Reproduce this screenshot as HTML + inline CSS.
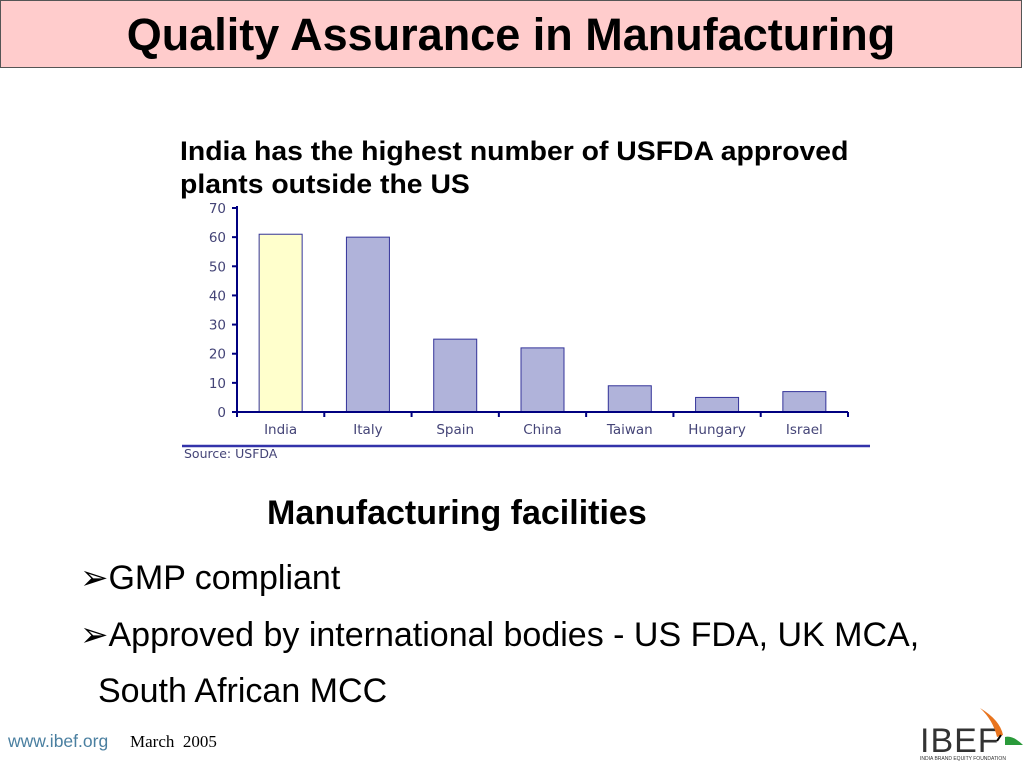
<!DOCTYPE html>
<html><head><meta charset="utf-8"><style>
body{margin:0;width:1024px;height:768px;background:#fff;position:relative;overflow:hidden;font-family:"Liberation Sans",sans-serif}
.t{position:absolute;white-space:nowrap}
</style></head><body>
<div style="position:absolute;left:0;top:0;width:1020px;height:66px;background:#ffcccc;border:1px solid #555"></div>
<div class="t" style="left:0;width:1022px;text-align:center;top:9px;font-size:45px;font-weight:bold;color:#000">Quality Assurance in Manufacturing</div>
<div class="t" style="left:180px;top:135px;font-size:27px;font-weight:bold;line-height:33px;transform:scaleX(1.05);transform-origin:0 0">India has the highest number of USFDA approved<br>plants outside the US</div>
<svg id="chart" width="1024" height="768" style="position:absolute;left:0;top:0"></svg>
<div class="t" style="left:267px;top:494px;font-size:34px;font-weight:bold">Manufacturing facilities</div>
<div class="t" style="left:80px;top:558px;font-size:34px">➢GMP compliant</div>
<div class="t" style="left:80px;top:615px;font-size:34px">➢Approved by international bodies - US FDA, UK MCA,</div>
<div class="t" style="left:98px;top:672px;font-size:34px">South African MCC</div>
<div class="t" style="left:8px;top:731px;font-size:17.5px;color:#4a7fa0">www.ibef.org</div>
<div class="t" style="left:130px;top:732px;font-size:17px;font-family:'Liberation Serif',serif">March&nbsp; 2005</div>
<div class="t" style="left:920px;top:722px;font-size:34px;color:#333;letter-spacing:1px">IBEF</div>
<div class="t" style="left:920px;top:756px;font-size:5px;color:#333">INDIA BRAND EQUITY FOUNDATION</div>
<svg width="50" height="50" style="position:absolute;left:975px;top:705px"><path d="M5 3 Q25 15 28 30 L22 32 Q18 15 5 3Z" fill="#e8741e"/><path d="M30 32 Q38 30 48 40 L30 40Z" fill="#2a9a3a"/><path d="M22 36 L26 30" stroke="#000" stroke-width="2"/></svg>
<script>
const categories=["India","Italy","Spain","China","Taiwan","Hungary","Israel"];
const values=[61,60,25,22,9,5,7];
const yTicks=[0,10,20,30,40,50,60,70];
const svg=document.getElementById('chart');const NS='http://www.w3.org/2000/svg';
const x0=237,x1=848,y0=412,y1=208,ymax=70;
const yS=v=>y0-(v/ymax)*(y0-y1);
const bw=(x1-x0)/categories.length;
const xS=i=>x0+(i+0.5)*bw;
function mk(t,a){const e=document.createElementNS(NS,t);for(const k in a)e.setAttribute(k,a[k]);svg.appendChild(e);return e;}
values.forEach((v,i)=>{const r=mk('rect',{x:xS(i)-21.5,y:yS(v),width:43,height:y0-yS(v),fill:i==0?'#ffffcc':'#b0b3da',stroke:'#333399','stroke-width':1});


const t=mk('text',{x:xS(i),y:434,'text-anchor':'middle','font-size':13.5,fill:'#444477','font-family':'DejaVu Sans'});t.textContent=categories[i];

});
yTicks.forEach(v=>{const l=mk('line',{x1:x0-5,x2:x0,y1:yS(v),y2:yS(v),stroke:'#000080','stroke-width':2});


const t=mk('text',{x:x0-11,y:yS(v)+5,'text-anchor':'end','font-size':13.5,fill:'#444477','font-family':'DejaVu Sans'});t.textContent=v;

});
for(let i=0;i<=categories.length;i++){const l=mk('line',{x1:x0+i*bw,x2:x0+i*bw,y1:y0,y2:y0+5,stroke:'#000080','stroke-width':2});

}
let a=mk('line',{x1:x0,x2:x0,y1:y1-2,y2:y0,stroke:'#000080','stroke-width':2});
a=mk('line',{x1:x0-5,x2:x1,y1:y0,y2:y0,stroke:'#000080','stroke-width':2});
a=mk('line',{x1:182,x2:870,y1:446,y2:446,stroke:'#3333aa','stroke-width':2.5});
a=mk('text',{x:184,y:458,'font-size':12.5,fill:'#444477','font-family':'DejaVu Sans'});a.textContent='Source: USFDA';
</script>
</body></html>
